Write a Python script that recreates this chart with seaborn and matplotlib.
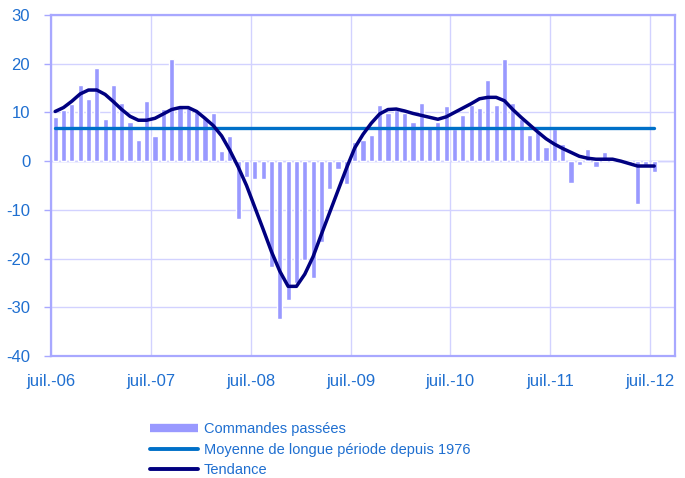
import numpy as np
import pandas as pd
import matplotlib
matplotlib.use("Agg")
import matplotlib.pyplot as plt
import seaborn as sns
from matplotlib.lines import Line2D

# Monthly data, juil.-06 to juil.-12 (73 months)
commandes = [
    9.0, 10.5, 11.8, 15.6, 12.8, 19.2, 8.6, 15.6, 12.0, 8.0, 4.3, 12.3,
    5.1, 10.8, 21.0, 11.3, 11.0, 10.0, 8.8, 9.8, 2.1, 5.1, -11.8, -3.2,
    -3.6, -3.7, -21.7, -32.5, -28.5, -25.0, -20.2, -24.0, -16.6, -5.8, -1.6, -4.7,
    4.0, 4.3, 5.3, 11.5, 9.8, 10.5, 9.9, 8.0, 11.9, 7.0, 8.0, 11.3,
    6.7, 9.5, 11.5, 10.9, 16.6, 11.5, 21.0, 11.9, 8.6, 5.3, 6.0, 2.9,
    6.7, 3.6, -4.5, -0.8, 2.5, -1.2, 1.8, 0.4, 0.2, -0.3, -8.8, -0.7,
    -2.2,
]
tendance = [
    10.2, 11.0, 12.3, 13.8, 14.6, 14.6, 13.7, 12.2, 10.6, 9.2, 8.4, 8.4,
    8.8, 9.7, 10.6, 11.0, 11.0, 10.2, 8.8, 7.3, 5.2, 2.2, -1.2, -5.0,
    -9.5, -14.0, -18.6, -22.6, -25.7, -25.7, -23.2, -19.6, -15.0, -10.5, -6.0, -1.5,
    2.7, 5.5, 7.8, 9.7, 10.6, 10.7, 10.3, 9.8, 9.4, 9.0, 8.6, 9.1,
    10.0, 10.9, 11.8, 12.8, 13.1, 13.1, 12.4, 10.6, 9.0, 7.5, 6.0, 4.6,
    3.5, 2.6, 1.8, 1.0, 0.6, 0.4, 0.4, 0.4, 0.0, -0.5, -1.0, -1.0,
    -1.0,
]
moyenne_lp = 6.9
tick_labels = ["juil.-06", "juil.-07", "juil.-08", "juil.-09",
               "juil.-10", "juil.-11", "juil.-12"]

months = np.arange(len(commandes))
df = pd.DataFrame({
    "mois": months + 0.5,
    "commandes": commandes,
    "tendance": tendance,
    "moyenne": [moyenne_lp] * len(commandes),
})

sns.set_style("white")
plt.rcParams["font.family"] = ["Liberation Sans", "DejaVu Sans"]
plt.rcParams["axes.unicode_minus"] = False

bar_col = "#9999FF"
mean_col = "#0070C8"
trend_col = "#000080"
text_col = "#1F6FD0"
grid_col = "#D2D2FF"

fig = plt.figure(figsize=(6.85, 4.78), dpi=100)
ax = fig.add_axes([0.0745, 0.2552, 0.9109, 0.7134])

sns.barplot(data=df, x="mois", y="commandes", native_scale=True,
            color=bar_col, saturation=1, width=0.62, ax=ax)
sns.lineplot(data=df, x="mois", y="moyenne", color=mean_col,
             linewidth=2.4, ax=ax, legend=False)
sns.lineplot(data=df, x="mois", y="tendance", color=trend_col,
             linewidth=2.5, ax=ax, legend=False)

ax.set_xlim(0, 75)
ax.set_ylim(-40, 30)
ax.set_xticks(np.arange(0, 73, 12))
ax.set_xticklabels(tick_labels)
ax.set_yticks(np.arange(-40, 31, 10))
ax.set_xlabel("")
ax.set_ylabel("")

ax.grid(True, color=grid_col, linewidth=1)
ax.set_axisbelow(True)
ax.axhline(0, color="#BDBDFF", linewidth=1, zorder=0.5)

for s in ax.spines.values():
    s.set_color("#A8A8FF")
    s.set_linewidth(1.6)

ax.tick_params(axis="y", colors="#A8A8FF", labelcolor=text_col,
               labelsize=12, length=5, width=1, pad=10, left=True)
ax.tick_params(axis="x", colors="#A8A8FF", labelcolor=text_col,
               labelsize=12, length=0, pad=13)

handles = [
    Line2D([], [], color=bar_col, linewidth=6, solid_capstyle="butt"),
    Line2D([], [], color=mean_col, linewidth=2.8, solid_capstyle="round"),
    Line2D([], [], color=trend_col, linewidth=2.8, solid_capstyle="round"),
]
labels = ["Commandes passées",
          "Moyenne de longue période depuis 1976",
          "Tendance"]
fig.legend(handles, labels, loc="upper left",
           bbox_to_anchor=(137 / 685, 1 - 409 / 478),
           frameon=False, fontsize=10.5, handlelength=3.3,
           handletextpad=0.4, labelspacing=0.45, labelcolor=text_col)

fig.savefig("out.png", dpi=100)
